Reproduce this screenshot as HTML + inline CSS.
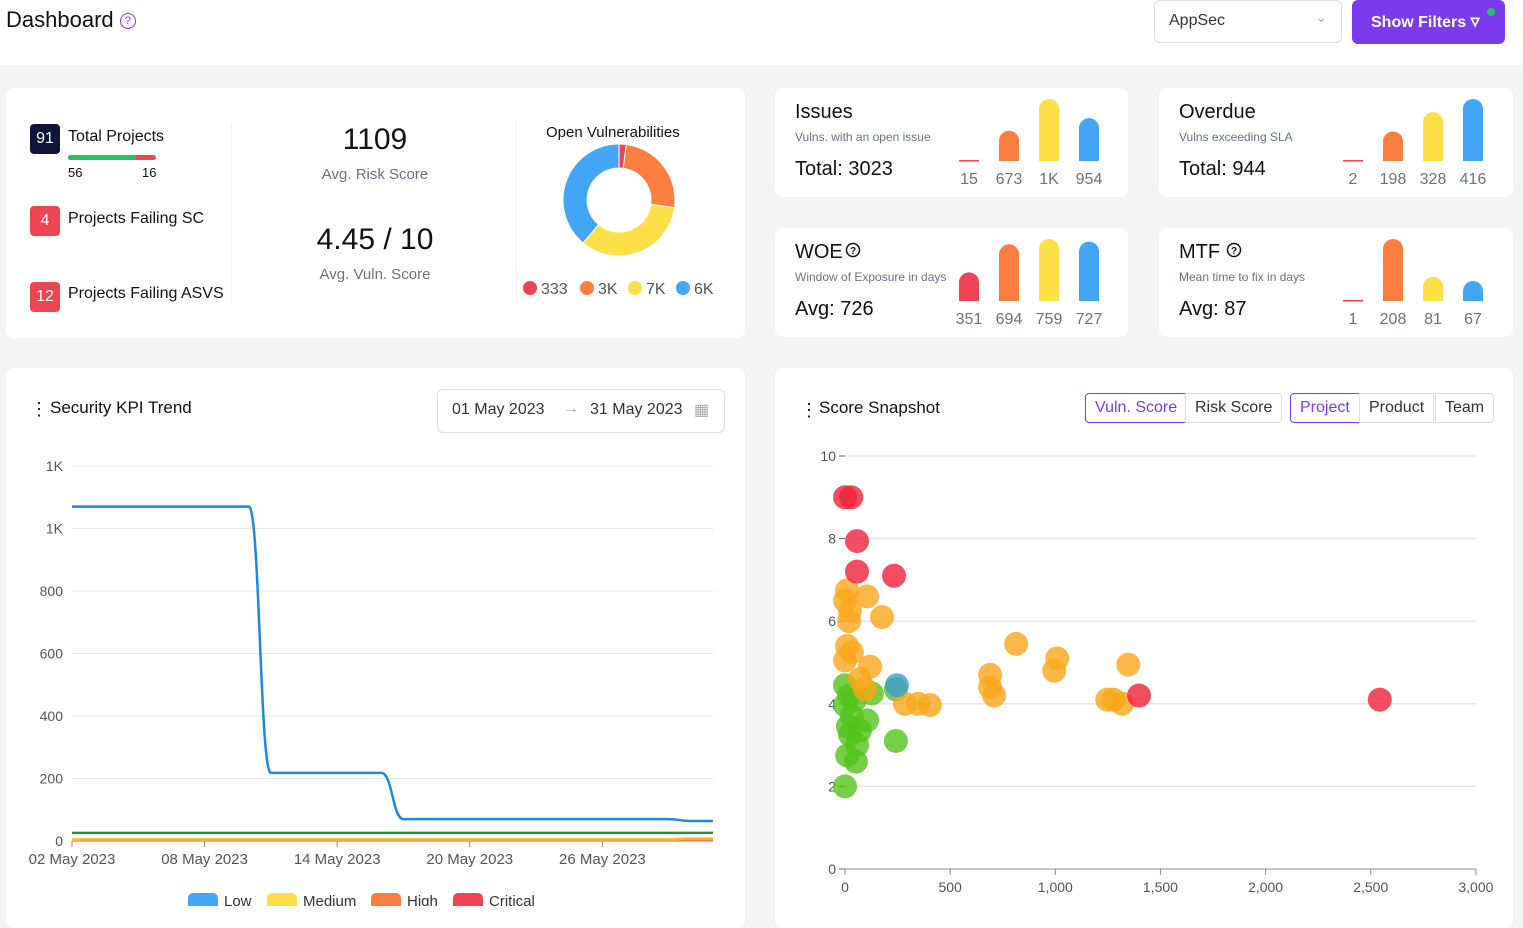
<!DOCTYPE html>
<html><head><meta charset="utf-8"><style>
*{box-sizing:border-box;margin:0;padding:0}
body{width:1523px;height:906px;overflow:hidden;background:#f4f4f5;font-family:"Liberation Sans",sans-serif;color:#111;position:relative}
.abs{position:absolute}
.card{position:absolute;background:#fff;border-radius:8px}
.t{position:absolute;white-space:nowrap}
.badge{position:absolute;width:30px;height:30px;border-radius:4px;color:#fff;font-size:16px;text-align:center;line-height:30px}
.gray{color:#6b7280}
.btn{position:absolute;height:30px;border:1px solid #ddd;font-size:16px;line-height:28px;padding:0 9px;color:#333;background:#fff}
</style></head><body>
<div class="abs" style="left:0;top:0;width:1523px;height:65px;background:#fff"></div>
<div class="t" style="left:6px;top:7px;font-size:22px">Dashboard <span style="color:#7c3aed;font-size:15px;border:1.5px solid #7c3aed;border-radius:50%;display:inline-block;width:16px;height:16px;line-height:14px;text-align:center;font-size:11px;vertical-align:middle">?</span></div>
<div class="abs" style="left:1154px;top:0;width:188px;height:43px;border:1px solid #ddd;border-radius:6px;background:#fff"><span class="t" style="left:14px;top:11px;font-size:16px;color:#333">AppSec</span><span class="t" style="right:14px;top:8px;font-size:14px;color:#aaa">&#8964;</span></div>
<div class="abs" style="left:1352px;top:0;width:153px;height:44px;background:#7c3aed;border-radius:6px;color:#fff;font-weight:bold;font-size:16px;line-height:42px;padding-left:19px">Show Filters <span style="font-size:18px">&#9663;</span><span class="abs" style="right:10px;top:8px;width:8px;height:8px;border-radius:50%;background:#22c55e"></span></div>

<div class="card" style="left:6px;top:88px;width:739px;height:250px">
<div class="badge" style="left:24px;top:36px;background:#0f1538">91</div>
<div class="t" style="left:62px;top:40px;font-size:16px">Total Projects</div>
<div class="abs" style="left:62px;top:67px;width:88px;height:5px;border-radius:3px;background:#ef4456;overflow:hidden"><div style="width:68px;height:5px;background:#22c55e"></div></div>
<div class="t" style="left:62px;top:77px;font-size:13px">56</div><div class="t" style="left:136px;top:77px;font-size:13px">16</div>
<div class="badge" style="left:24px;top:118px;background:#f04455">4</div>
<div class="t" style="left:62px;top:122px;font-size:16px">Projects Failing SC</div>
<div class="badge" style="left:24px;top:194px;background:#f04455">12</div>
<div class="t" style="left:62px;top:197px;font-size:16px">Projects Failing ASVS</div>
<div class="abs" style="left:225px;top:35px;width:1px;height:180px;background:#f1f1f1"></div>
<div class="abs" style="left:510px;top:35px;width:1px;height:180px;background:#f1f1f1"></div>
<div class="t" style="left:269px;top:35px;width:200px;text-align:center;font-size:30px">1109</div>
<div class="t gray" style="left:269px;top:78px;width:200px;text-align:center;font-size:15px">Avg. Risk Score</div>
<div class="t" style="left:269px;top:135px;width:200px;text-align:center;font-size:30px">4.45 / 10</div>
<div class="t gray" style="left:269px;top:178px;width:200px;text-align:center;font-size:15px">Avg. Vuln. Score</div>
<div class="t" style="left:540px;top:36px;font-size:15px">Open Vulnerabilities</div>
<svg class="abs" id="donut" style="left:0;top:0" width="739" height="250"></svg>
</div>

<div class="card" style="left:775px;top:88px;width:353px;height:109px"></div>
<div class="card" style="left:1159px;top:88px;width:354px;height:109px"></div>
<div class="card" style="left:775px;top:228px;width:353px;height:109px"></div>
<div class="card" style="left:1159px;top:228px;width:354px;height:109px"></div>
<svg class="abs" id="mini" style="left:0;top:0" width="1523" height="340"></svg>

<div class="card" style="left:6px;top:368px;width:739px;height:560px"></div>
<div class="t" style="left:30px;top:399px;font-size:18px">&#8942;</div>
<div class="t" style="left:50px;top:398px;font-size:17px">Security KPI Trend</div>
<div class="abs" style="left:437px;top:389px;width:288px;height:44px;border:1px solid #ddd;border-radius:6px;font-size:16px;color:#333"><span class="t" style="left:14px;top:11px">01 May 2023</span><span class="t" style="left:125px;top:10px;color:#aaa">&#8594;</span><span class="t" style="left:152px;top:11px">31 May 2023</span><span class="t" style="left:256px;top:10px;color:#aaa">&#9638;</span></div>
<svg class="abs" id="line" style="left:0;top:0" width="760" height="906"></svg>

<div class="card" style="left:775px;top:368px;width:738px;height:560px"></div>
<div class="t" style="left:800px;top:400px;font-size:18px">&#8942;</div>
<div class="t" style="left:819px;top:398px;font-size:17px">Score Snapshot</div>
<div class="btn" style="left:1085px;top:393px;border-color:#7c3aed;color:#7c3aed;border-radius:4px 0 0 4px">Vuln. Score</div>
<div class="btn" style="left:1185px;top:393px;border-radius:0 4px 4px 0">Risk Score</div>
<div class="btn" style="left:1290px;top:393px;border-color:#7c3aed;color:#7c3aed;border-radius:4px 0 0 4px">Project</div>
<div class="btn" style="left:1359px;top:393px">Product</div>
<div class="btn" style="left:1435px;top:393px;border-radius:0 4px 4px 0">Team</div>
<svg class="abs" id="scatter" style="left:0;top:0" width="1523" height="906"></svg>

<script>
const NS="http://www.w3.org/2000/svg";
function mk(p,tag,a){const e=document.createElementNS(NS,tag);for(const k in a)e.setAttribute(k,a[k]);p.appendChild(e);return e;}

const donutValues=[333,4000,5400,6200];
const donutLabels=["333","3K","7K","6K"];
const donutColors=["#f04455","#fb7d3f","#fde047","#42a5f5"];
const dn=document.getElementById('donut');
(function(){const cx=613,cy=112,R=56,r=32;const tot=donutValues.reduce((a,b)=>a+b,0);let a0=0;
donutValues.forEach((v,i)=>{const a1=a0+v/tot*2*Math.PI;const p=(a,rr)=>[cx+rr*Math.sin(a),cy-rr*Math.cos(a)];const l=(a1-a0)>Math.PI?1:0;
const [x0,y0]=p(a0,R),[x1,y1]=p(a1,R),[x2,y2]=p(a1,r),[x3,y3]=p(a0,r);
const s=mk(dn,'path',{d:`M${x0},${y0}A${R},${R} 0 ${l} 1 ${x1},${y1}L${x2},${y2}A${r},${r} 0 ${l} 0 ${x3},${y3}Z`,fill:donutColors[i],stroke:'#fff','stroke-width':1});


a0=a1;});
const lx=[525,582,630,678];
donutLabels.forEach((t,i)=>{const c=mk(dn,'circle',{cx:lx[i]-1,cy:200,r:7,fill:donutColors[i]});


const tx=mk(dn,'text',{x:lx[i]+10,y:206,'font-size':16,fill:'#555'});tx.textContent=t;

});})();

const miniTitles=["Issues","Overdue","WOE","MTF"];
const miniSubs=["Vulns. with an open issue","Vulns exceeding SLA","Window of Exposure in days","Mean time to fix in days"];
const miniTotals=["Total: 3023","Total: 944","Avg: 726","Avg: 87"];
const issuesValues=[15,673,1380,954];
const issuesLabels=["15","673","1K","954"];
const overdueValues=[2,198,328,416];
const overdueLabels=["2","198","328","416"];
const woeValues=[351,694,759,727];
const woeLabels=["351","694","759","727"];
const mtfValues=[1,208,81,67];
const mtfLabels=["1","208","81","67"];
const sevColors=["#f04455","#fb7d3f","#fde047","#42a5f5"];
const mn=document.getElementById('mini');
[[issuesValues,issuesLabels,775,88],[overdueValues,overdueLabels,1159,88],[woeValues,woeLabels,775,228],[mtfValues,mtfLabels,1159,228]].forEach((c,k)=>{
const [vals,labs,ox,oy]=c;const mx=Math.max(...vals);const base=oy+73;
const t=mk(mn,'text',{x:ox+20,y:oy+30,'font-size':20,fill:'#111'});t.textContent=miniTitles[k];


if(k>=2){const hx=ox+(k==2?78:75);const q=mk(mn,'circle',{cx:hx,cy:oy+22,r:6.5,fill:'none',stroke:'#111','stroke-width':1.5});
const qt=mk(mn,'text',{x:hx,y:oy+26,'font-size':10,'font-weight':'bold','text-anchor':'middle',fill:'#111'});qt.textContent='?';}
const s=mk(mn,'text',{x:ox+20,y:oy+53,'font-size':12,fill:'#6b7280'});s.textContent=miniSubs[k];


const tt=mk(mn,'text',{x:ox+20,y:oy+87,'font-size':20,fill:'#111'});tt.textContent=miniTotals[k];


vals.forEach((v,i)=>{const cx=ox+194+i*40;const h=v/mx*62;
let b;if(h<4){b=mk(mn,'rect',{x:cx-10,y:base-1,width:20,height:1.5,fill:sevColors[i]});}
else{const w=20,rr=10;b=mk(mn,'path',{d:`M${cx-w/2},${base}V${base-h+rr}A${rr},${rr} 0 0 1 ${cx+w/2},${base-h+rr}V${base}Z`,fill:sevColors[i]});}


const l=mk(mn,'text',{x:cx,y:oy+96,'font-size':16,fill:'#6b7280','text-anchor':'middle'});l.textContent=labs[i];

});});

const lineDays=[...Array(30).keys()];
const lowSeries=[1070,1070,1070,1070,1070,1070,1070,1070,1070,218,218,218,218,218,218,70,70,70,70,70,70,70,70,70,70,70,70,70,64,64];
const mediumSeries=[5,5,5,5,5,5,5,5,5,5,5,5,5,5,5,5,5,5,5,5,5,5,5,5,5,5,5,5,8,8];
const highSeries=Array(30).fill(2);
const greenSeries=Array(30).fill(26);
const yTickVals=[0,200,400,600,800,1000,1200];
const yTickLabels=["0","200","400","600","800","1K","1K"];
const xTickDays=[0,6,12,18,24];
const xTickLabels=["02 May 2023","08 May 2023","14 May 2023","20 May 2023","26 May 2023"];
const ln=document.getElementById('line');
const X=d=>72+d*22.1, Y=v=>841-v*0.3125;
yTickVals.forEach((v,i)=>{const g=mk(ln,'line',{x1:72,x2:713,y1:Y(v),y2:Y(v),stroke:'#e5e7eb'});
const t=mk(ln,'text',{x:63,y:Y(v)+5,'font-size':14,fill:'#555','text-anchor':'end'});t.textContent=yTickLabels[i];});
mk(ln,'line',{x1:72,x2:713,y1:841,y2:841,stroke:'#888'});
xTickDays.forEach((d,i)=>{mk(ln,'line',{x1:X(d),x2:X(d),y1:841,y2:847,stroke:'#888'});
const t=mk(ln,'text',{x:X(d),y:864,'font-size':15,fill:'#555','text-anchor':'middle'});t.textContent=xTickLabels[i];});
function curve(vals){let d=`M${X(0)},${Y(vals[0])}`;for(let i=1;i<vals.length;i++){const x0=X(i-1),x1=X(i),m=(x0+x1)/2;d+=`C${m},${Y(vals[i-1])} ${m},${Y(vals[i])} ${x1},${Y(vals[i])}`;}return d;}
[[greenSeries,'#2e8b3e','line-other'],[highSeries,'#fb7d3f','line-high'],[mediumSeries,'#f2b53a','line-medium'],[lowSeries,'#1e88e5','line-low']].forEach(s=>{const p=mk(ln,'path',{d:curve(s[0]),fill:'none',stroke:s[1],'stroke-width':2.5});});
const legN=["Low","Medium","High","Critical"],legX=[188,267,371,453];
legN.forEach((n,i)=>{const r=mk(ln,'rect',{x:legX[i],y:893,width:30,height:20,rx:5,fill:sevColors[[3,2,1,0][i]]});
const t=mk(ln,'text',{x:legX[i]+36,y:906,'font-size':15,fill:'#333'});t.textContent=n;});

const redX=[0,30,57,57,233,1398,2543];
const redY=[9.0,9.0,7.94,7.2,7.1,4.2,4.1];
const blueX=[247];
const blueY=[4.45];
const orangeX=[10,0,24,19,105,176,10,33,0,119,71,95,285,347,404,690,690,709,814,1009,995,1347,1247,1276,1318];
const orangeY=[6.75,6.5,6.25,6.0,6.6,6.1,5.4,5.25,5.05,4.9,4.6,4.35,4.0,4.0,3.97,4.7,4.4,4.2,5.45,5.1,4.8,4.95,4.1,4.1,4.0];
const greenX=[0,19,0,48,128,242,105,14,71,57,24,10,52,242,0,33];
const greenY=[4.45,4.2,3.97,4.1,4.25,4.35,3.6,3.45,3.35,3.0,3.25,2.75,2.6,3.1,2.0,3.7];
const sxTicks=[0,500,1000,1500,2000,2500,3000];
const sxLabels=["0","500","1,000","1,500","2,000","2,500","3,000"];
const syTicks=[0,2,4,6,8,10];
const sc=document.getElementById('scatter');
const SX=v=>845+v*0.2103, SY=v=>869-v*41.3;
syTicks.forEach(v=>{if(v>0){const g=mk(sc,'line',{x1:845,x2:1476,y1:SY(v),y2:SY(v),stroke:'#e5e7eb','stroke-width':1.5});}
mk(sc,'line',{x1:839,x2:845,y1:SY(v),y2:SY(v),stroke:'#666'});
const t=mk(sc,'text',{x:836,y:SY(v)+5,'font-size':14,fill:'#555','text-anchor':'end'});t.textContent=String(v);});
mk(sc,'line',{x1:845,x2:1476,y1:869,y2:869,stroke:'#888'});
sxTicks.forEach((v,i)=>{mk(sc,'line',{x1:SX(v),x2:SX(v),y1:869,y2:875,stroke:'#888'});
const t=mk(sc,'text',{x:SX(v),y:892,'font-size':14,fill:'#555','text-anchor':'middle'});t.textContent=sxLabels[i];});
[[greenX,greenY,'#52c41a'],[orangeX,orangeY,'#faa61a'],[blueX,blueY,'#3f9bd1'],[redX,redY,'#f0213a']].forEach(s=>{s[0].forEach((x,i)=>{const c=mk(sc,'circle',{cx:SX(x),cy:SY(s[1][i]),r:12,fill:s[2],'fill-opacity':0.8});

});});
</script>
</body></html>
